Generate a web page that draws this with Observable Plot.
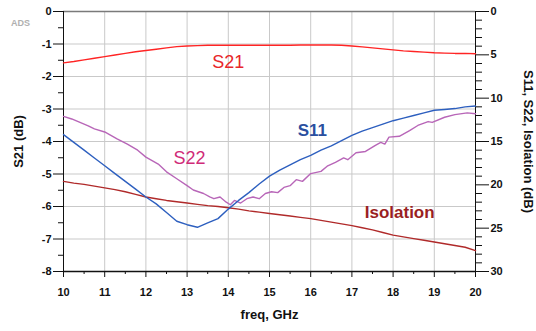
<!DOCTYPE html>
<html>
<head>
<meta charset="utf-8">
<script src="https://cdn.jsdelivr.net/npm/d3@7"></script>
<script src="https://cdn.jsdelivr.net/npm/@observablehq/plot@0.6"></script>
<style>
  html, body { margin: 0; padding: 0; background: #ffffff; }
</style>
</head>
<body>
<div id="chart"></div>
<script>
// Frequencies (GHz) shared by S21, S11 and Isolation
const freq = [10, 10.25, 10.5, 10.75, 11, 11.25, 11.5, 11.75, 12, 12.25, 12.5, 12.75, 13, 13.25, 13.5, 13.75,
  14, 14.25, 14.5, 14.75, 15, 15.25, 15.5, 15.75, 16, 16.25, 16.5, 16.75, 17, 17.25, 17.5, 17.75,
  18, 18.25, 18.5, 18.75, 19, 19.25, 19.5, 19.75, 20];

// S21 (dB), left axis
const s21 = [-1.58, -1.54, -1.49, -1.44, -1.39, -1.34, -1.29, -1.24, -1.20, -1.16, -1.12, -1.08, -1.06, -1.05, -1.04, -1.04,
  -1.04, -1.04, -1.04, -1.04, -1.04, -1.04, -1.04, -1.03, -1.03, -1.03, -1.03, -1.04, -1.06, -1.09, -1.12, -1.15,
  -1.18, -1.21, -1.23, -1.25, -1.27, -1.28, -1.29, -1.29, -1.30];

// S11 (dB, right axis, positive downward)
const s11 = [14.2, 15.1, 16.0, 16.9, 17.8, 18.7, 19.6, 20.5, 21.4, 22.2, 23.2, 24.2, 24.6, 24.9, 24.4, 23.9,
  22.8, 21.8, 20.9, 19.9, 19.0, 18.3, 17.7, 17.1, 16.6, 16.0, 15.5, 14.9, 14.3, 13.8, 13.4, 13.0,
  12.6, 12.3, 12.0, 11.7, 11.4, 11.3, 11.2, 11.0, 10.9];

// Isolation (dB, right axis)
const isolation = [19.6, 19.8, 19.95, 20.15, 20.35, 20.55, 20.8, 21.1, 21.4, 21.6, 21.8, 21.95, 22.1, 22.25, 22.4, 22.5,
  22.65, 22.8, 23.0, 23.15, 23.3, 23.45, 23.6, 23.75, 23.9, 24.1, 24.3, 24.5, 24.7, 24.95, 25.2, 25.5,
  25.8, 26.0, 26.2, 26.4, 26.6, 26.8, 27.0, 27.2, 27.6];

// S22 has its own (denser, rippled) frequency points
const freqS22 = [10.0, 10.2, 10.4, 10.6, 10.75, 11.0, 11.15, 11.3, 11.55, 11.8, 12.0, 12.15, 12.3, 12.5, 12.75,
  13.0, 13.15, 13.4, 13.55, 13.65, 13.8, 13.95, 14.05, 14.15, 14.3, 14.45, 14.6, 14.75, 14.9, 15.05, 15.2,
  15.35, 15.5, 15.65, 15.8, 16.0, 16.25, 16.4, 16.6, 16.8, 16.9, 17.1, 17.33, 17.57, 17.7, 17.8, 17.9,
  18.15, 18.4, 18.6, 18.85, 18.95, 19.25, 19.5, 19.8, 20.0];
const s22 = [12.1, 12.4, 12.8, 13.2, 13.55, 13.9, 14.3, 14.7, 15.3, 16.0, 16.8, 17.2, 17.6, 18.5, 19.3,
  20.1, 20.6, 21.0, 21.4, 21.6, 21.4, 22.0, 22.3, 21.8, 22.1, 21.6, 21.4, 21.6, 21.0, 20.8, 20.9,
  20.3, 20.1, 19.4, 19.6, 18.7, 18.45, 17.85, 17.4, 16.9, 17.1, 16.3, 16.15, 15.45, 15.1, 15.3, 14.5,
  14.4, 13.75, 13.15, 12.7, 12.8, 12.2, 11.9, 11.7, 11.8];

// Tick values
const xMajor = [10, 11, 12, 13, 14, 15, 16, 17, 18, 19, 20];
const xMinor = [10.5, 11.5, 12.5, 13.5, 14.5, 15.5, 16.5, 17.5, 18.5, 19.5];
const xGrid = [11, 12, 13, 14, 15, 16, 17, 18, 19];
const yMajor = [0, -1, -2, -3, -4, -5, -6, -7, -8];
const yMinor = [-0.5, -1.5, -2.5, -3.5, -4.5, -5.5, -6.5, -7.5];
const yGrid = [-1, -2, -3, -4, -5, -6, -7];
const rMajor = [0, 5, 10, 15, 20, 25, 30];
const rMinor = [1, 2, 3, 4, 6, 7, 8, 9, 11, 12, 13, 14, 16, 17, 18, 19, 21, 22, 23, 24, 26, 27, 28, 29];

// Curve labels (freq, value on the series' own axis)
const labelText = ["S21", "S22", "S11", "Isolation"];
const labelFreq = [14.0, 13.06, 16.04, 18.16];
const labelVal = [-1.55, 16.9, 13.7, 23.2];
const labelAxis = ["left", "right", "right", "right"];
const labelColor = ["#e8262a", "#d02a78", "#2a4f9f", "#9a1f22"];
const labelBold = [false, false, true, true];

// right axis (0..30 dB downward) mapped onto left axis (0..-8 dB)
const R = v => -v * 8 / 30;
const Rinv = y => Math.round(-y * 30 / 8);

const dS21 = freq.map((f, i) => ({f, v: s21[i]}));
const dS11 = freq.map((f, i) => ({f, v: s11[i]}));
const dIso = freq.map((f, i) => ({f, v: isolation[i]}));
const dS22 = freqS22.map((f, i) => ({f, v: s22[i]}));
const labels = labelText.map((t, i) => ({
  t, f: labelFreq[i], y: labelAxis[i] === "left" ? labelVal[i] : R(labelVal[i]),
  c: labelColor[i], b: labelBold[i]
}));

const tickFont = {fontWeight: "bold", fontSize: 11, fill: "#111"};

const chart = Plot.plot({
  width: 536,
  height: 331,
  marginLeft: 63,
  marginRight: 61,
  marginTop: 11,
  marginBottom: 60,
  style: {fontFamily: "Liberation Sans, Arial, sans-serif", background: "#ffffff", color: "#111"},
  x: {domain: [10, 20]},
  y: {domain: [-8, 0]},
  marks: [
    Plot.gridX(xGrid, {stroke: "#c9c9c9", strokeOpacity: 1}),
    Plot.gridY(yGrid, {stroke: "#c9c9c9", strokeOpacity: 1}),
    Plot.ruleY([0], {stroke: "#7a7a7a", strokeWidth: 1.5}),
    Plot.ruleX([10], {stroke: "#111"}),
    Plot.ruleX([20], {stroke: "#111"}),
    Plot.ruleY([-8], {stroke: "#111", strokeWidth: 1.5}),
    Plot.axisY(yMajor, {anchor: "left", tickSize: 10, tickPadding: 2, tickFormat: d => String(d), label: null, ...tickFont}),
    Plot.axisY(yMinor, {anchor: "left", tickSize: 5, tickFormat: () => "", label: null}),
    Plot.axisX(xMajor, {anchor: "bottom", tickSize: 6, tickPadding: 11, tickFormat: d => String(d), label: null, ...tickFont}),
    Plot.axisX(xMinor, {anchor: "bottom", tickSize: 3, tickFormat: () => "", label: null}),
    Plot.axisY(rMajor.map(R), {anchor: "right", tickSize: 13, tickPadding: 2, tickFormat: Rinv, label: null, ...tickFont}),
    Plot.axisY(rMinor.map(R), {anchor: "right", tickSize: 6, tickFormat: () => "", label: null}),
    Plot.line(dIso, {x: "f", y: d => R(d.v), stroke: "#b02a2a", strokeWidth: 1.4}),
    Plot.line(dS22, {x: "f", y: d => R(d.v), stroke: "#b866b8", strokeWidth: 1.4}),
    Plot.line(dS11, {x: "f", y: d => R(d.v), stroke: "#2d5fbf", strokeWidth: 1.4}),
    Plot.line(dS21, {x: "f", y: "v", stroke: "#ff2424", strokeWidth: 1.4}),
    Plot.text(labels.filter(d => !d.b), {x: "f", y: "y", text: "t", fill: d => d.c, fontSize: 18}),
    Plot.text(labels.filter(d => d.b), {x: "f", y: "y", text: "t", fill: d => d.c, fontWeight: "bold", fontSize: 17}),
    Plot.text(["S21 (dB)"], {text: d => d, frameAnchor: "left", dx: -45, rotate: -90, textAnchor: "middle", fontWeight: "bold", fontSize: 13, fill: "#111"}),
    Plot.text(["S11, S22, Isolation (dB)"], {text: d => d, frameAnchor: "right", dx: 53, rotate: 90, textAnchor: "middle", fontWeight: "bold", fontSize: 13, fill: "#111"}),
    Plot.text(["freq, GHz"], {text: d => d, frameAnchor: "bottom", dy: 47, textAnchor: "middle", fontWeight: "bold", fontSize: 13, fill: "#111"}),
    Plot.text(["ADS"], {text: d => d, frameAnchor: "top-left", dx: -43, dy: 8, textAnchor: "middle", fontWeight: "bold", fontSize: 9, fill: "#b0b0b0"})
  ]
});
document.getElementById("chart").appendChild(chart);
</script>
</body>
</html>
